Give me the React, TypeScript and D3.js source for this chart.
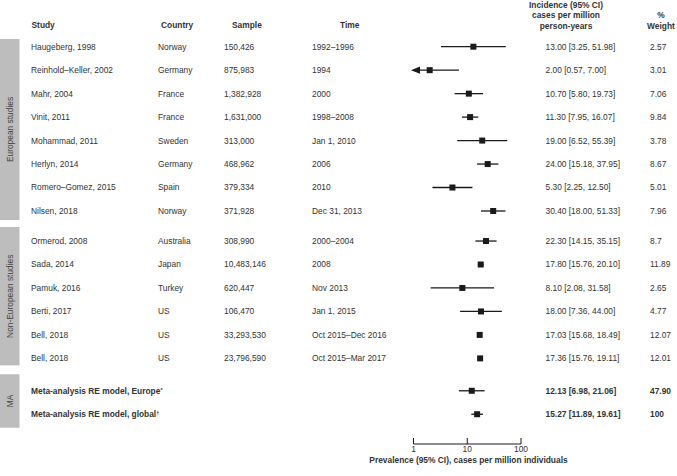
import * as d3 from "d3";

const studies = [
  "Haugeberg, 1998",
  "Reinhold\u2013Keller, 2002",
  "Mahr, 2004",
  "Vinit, 2011",
  "Mohammad, 2011",
  "Herlyn, 2014",
  "Romero\u2013Gomez, 2015",
  "Nilsen, 2018",
  "Ormerod, 2008",
  "Sada, 2014",
  "Pamuk, 2016",
  "Berti, 2017",
  "Bell, 2018",
  "Bell, 2018",
  "Meta-analysis RE model, Europe",
  "Meta-analysis RE model, global",
];
const marks = ["", "", "", "", "", "", "", "", "", "", "", "", "", "", "*", "\u2020"];
const countries = [
  "Norway", "Germany", "France", "France", "Sweden", "Germany", "Spain", "Norway",
  "Australia", "Japan", "Turkey", "US", "US", "US", "", "",
];
const samples = [
  "150,426", "875,983", "1,382,928", "1,631,000", "313,000", "468,962", "379,334", "371,928",
  "308,990", "10,483,146", "620,447", "106,470", "33,293,530", "23,796,590", "", "",
];
const times = [
  "1992\u20131996", "1994", "2000", "1998\u20132008", "Jan 1, 2010", "2006", "2010", "Dec 31, 2013",
  "2000\u20132004", "2008", "Nov 2013", "Jan 1, 2015", "Oct 2015\u2013Dec 2016", "Oct 2015\u2013Mar 2017", "", "",
];
const estimates = [13.0, 2.0, 10.7, 11.3, 19.0, 24.0, 5.3, 30.4, 22.3, 17.8, 8.1, 18.0, 17.03, 17.36, 12.13, 15.27];
const lowers = [3.25, 0.57, 5.8, 7.95, 6.52, 15.18, 2.25, 18.0, 14.15, 15.76, 2.08, 7.36, 15.68, 15.76, 6.98, 11.89];
const uppers = [51.98, 7.0, 19.73, 16.07, 55.39, 37.95, 12.5, 51.33, 35.15, 20.1, 31.58, 44.0, 18.49, 19.11, 21.06, 19.61];
const weights = [
  "2.57", "3.01", "7.06", "9.84", "3.78", "8.67", "5.01", "7.96",
  "8.7", "11.89", "2.65", "4.77", "12.07", "12.01", "47.90", "100",
];
const groupOf = [0, 0, 0, 0, 0, 0, 0, 0, 1, 1, 1, 1, 1, 1, 2, 2];
const groupNames = ["European studies", "Non-European studies", "MA"];
const axisTicks = [1, 10, 100];

// layout
const W = 677;
const H = 476;
const FONT = "'Liberation Sans', Arial, sans-serif";
const FS = 8.4;
const TXT = "#333";
const INK = "#1a1a1a";
const groupShift = [0, 0.28, 0.66];
const groupPad = [
  [7.7, 9],
  [14, 7],
  [16.5, 13.5],
];

const App = () => {
  const y = d3.scaleLinear().domain([0, 1]).range([46.7, 70.17]);
  const rowY = (i: number) => y(i + groupShift[groupOf[i]]);
  const x = d3.scaleLog().domain([1, 100]).range([413.5, 521]);
  const axisY = 444;
  const sq = 6;

  const bands = groupNames.map((name, g) => {
    const idx = d3.range(studies.length).filter((i) => groupOf[i] === g);
    const top = rowY(idx[0]) - groupPad[g][0];
    const bottom = rowY(idx[idx.length - 1]) + groupPad[g][1];
    return { name, top, bottom };
  });

  return (
    <svg
      width={W}
      height={H}
      style={{ position: "absolute", left: 0, top: 0, background: "#fff" }}
      fontFamily={FONT}
      fontSize={FS}
    >
      {/* group bands */}
      {bands.map((b) => (
        <g key={b.name}>
          <rect x={0} y={b.top} width={19.5} height={b.bottom - b.top} fill="#bdbdbd" />
          <text
            transform={`translate(10,${(b.top + b.bottom) / 2}) rotate(-90)`}
            textAnchor="middle"
            dy="0.35em"
            fill="#444"
          >
            {b.name}
          </text>
        </g>
      ))}

      {/* headers */}
      <g fontWeight="bold" fill={TXT}>
        <text x={31.5} y={25} dy="0.35em">Study</text>
        <text x={161} y={25} dy="0.35em">Country</text>
        <text x={232} y={25} dy="0.35em">Sample</text>
        <text x={340} y={25} dy="0.35em">Time</text>
        <text x={566} y={5} dy="0.35em" textAnchor="middle">Incidence (95% CI)</text>
        <text x={566} y={15.5} dy="0.35em" textAnchor="middle">cases per million</text>
        <text x={566} y={26} dy="0.35em" textAnchor="middle">person-years</text>
        <text x={661} y={15.5} dy="0.35em" textAnchor="middle">%</text>
        <text x={661} y={26} dy="0.35em" textAnchor="middle">Weight</text>
      </g>

      {/* rows */}
      {studies.map((s, i) => {
        const cy = rowY(i);
        const bold = groupOf[i] === 2 ? "bold" : "normal";
        const lo = lowers[i];
        const clipped = lo < x.domain()[0];
        const x0 = clipped ? x(x.domain()[0]) + 4 : x(lo);
        const tip = x(x.domain()[0]) - 2.5;
        return (
          <g key={i} fill={TXT} fontWeight={bold}>
            <text x={31} y={cy} dy="0.35em">
              {s}
              {marks[i] && (
                <tspan fontSize={FS * 0.65} dy="-0.35em">{marks[i]}</tspan>
              )}
            </text>
            <text x={158} y={cy} dy="0.35em">{countries[i]}</text>
            <text x={224} y={cy} dy="0.35em">{samples[i]}</text>
            <text x={312} y={cy} dy="0.35em">{times[i]}</text>
            <line x1={x0} x2={x(uppers[i])} y1={cy} y2={cy} stroke={INK} strokeWidth={1.3} />
            {clipped && (
              <polygon
                points={`${tip},${cy} ${tip + 9},${cy - 3.6} ${tip + 9},${cy + 3.6}`}
                fill={INK}
              />
            )}
            <rect x={x(estimates[i]) - sq / 2} y={cy - sq / 2} width={sq} height={sq} fill={INK} />
            <text x={545.5} y={cy} dy="0.35em">
              {`${estimates[i].toFixed(2)} [${lowers[i].toFixed(2)}, ${uppers[i].toFixed(2)}]`}
            </text>
            <text x={650} y={cy} dy="0.35em">{weights[i]}</text>
          </g>
        );
      })}

      {/* axis */}
      <g transform={`translate(0,${axisY})`}>
        <line x1={x(1)} x2={x(100)} y1={0} y2={0} stroke={INK} strokeWidth={1} />
        {axisTicks.map((t) => (
          <g key={t} transform={`translate(${x(t)},0)`}>
            <line y1={0} y2={-6} stroke={INK} strokeWidth={1} />
            <text y={5.5} dy="0.35em" textAnchor="middle" fill={TXT}>
              {d3.format("d")(t)}
            </text>
          </g>
        ))}
      </g>
      <text x={468.5} y={460} dy="0.35em" textAnchor="middle" fontWeight="bold" fill={TXT}>
        Prevalence (95% CI), cases per million individuals
      </text>
    </svg>
  );
};

export default App;
